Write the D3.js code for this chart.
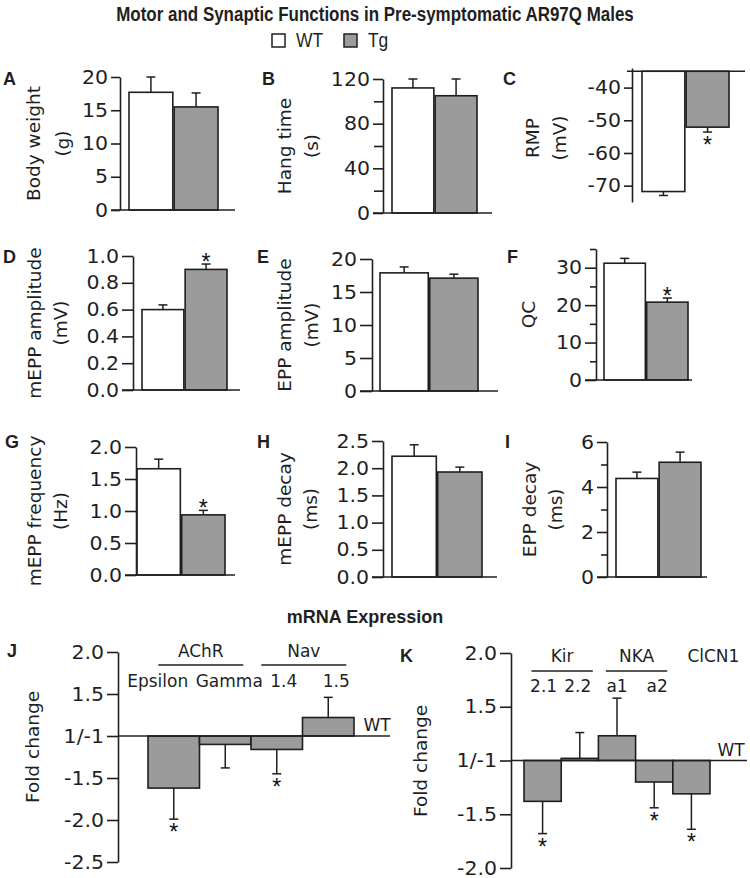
<!DOCTYPE html>
<html><head><meta charset="utf-8">
<script src="https://cdn.jsdelivr.net/npm/d3@7"></script>
<style>body{margin:0;background:#fff}svg{display:block}</style>
</head><body>
<script>
// ---------------- DATA ----------------
const genotypes = ["WT", "Tg"];
const bodyWeight = [17.7, 15.5], bodyWeightErr = [2.3, 2.1], bodyWeightSig = [false, false];
const hangTime = [112, 105], hangTimeErr = [8, 15], hangTimeSig = [false, false];
const rmp = [-71.8, -52.1], rmpErr = [1.2, 1.5], rmpSig = [false, true];
const mEPPamp = [0.60, 0.90], mEPPampErr = [0.035, 0.04], mEPPampSig = [false, true];
const eppAmp = [17.9, 17.1], eppAmpErr = [0.9, 0.6], eppAmpSig = [false, false];
const qc = [31.2, 20.8], qcErr = [1.3, 1.1], qcSig = [false, true];
const mEPPfreq = [1.66, 0.94], mEPPfreqErr = [0.15, 0.07], mEPPfreqSig = [false, true];
const mEPPdecay = [2.22, 1.93], mEPPdecayErr = [0.21, 0.09], mEPPdecaySig = [false, false];
const eppDecay = [4.38, 5.10], eppDecayErr = [0.28, 0.45], eppDecaySig = [false, false];

const jCats = ["Epsilon", "Gamma", "Nav1.4", "Nav1.5"];
const jSub = ["Epsilon", "Gamma", "1.4", "1.5"];
const jFold = [-1.62, -1.10, -1.16, 1.22];
const jErr = [0.37, 0.28, 0.29, 0.24];
const jSig = [true, false, true, false];
const jGroups = [{name: "AChR", from: 0, to: 1}, {name: "Nav", from: 2, to: 3}];

const kCats = ["Kir2.1", "Kir2.2", "NKAa1", "NKAa2", "ClCN1"];
const kSub = ["2.1", "2.2", "a1", "a2", ""];
const kFold = [-1.38, 1.02, 1.23, -1.20, -1.31];
const kErr = [0.30, 0.24, 0.35, 0.24, 0.33];
const kSig = [true, false, false, true, true];
const kGroups = [{name: "Kir", from: 0, to: 1}, {name: "NKA", from: 2, to: 3}];

const foldTicksJ = [2.0, 1.5, 1, -1.5, -2.0, -2.5];
const foldTicksK = [2.0, 1.5, 1, -1.5, -2.0];

// ---------------- STYLE ----------------
const loc = d3.formatLocale({decimal: ".", thousands: ",", grouping: [3], currency: ["", ""], minus: "-"});
const fmtInt = loc.format("d"), fmt1 = loc.format(".1f");
const foldTickLabel = f => f === 1 ? "1/-1" : fmt1(f);

const W = 750, H = 878;
const FONT = "'DejaVu Sans', 'Liberation Sans', sans-serif";
const TICK_FS = 19, TICK_SX = 1.08;
const INK = "#1f1f1f";
const TG_FILL = "#9b9b9b";
const svg = d3.select("body").append("svg").attr("width", W).attr("height", H)
  .attr("font-family", FONT).style("background", "#fff");

// Title + legend (condensed bold look)
svg.append("text").attr("transform", "translate(375,21) scale(0.87,1)").attr("text-anchor", "middle")
  .attr("font-family", "'Liberation Sans',sans-serif")
  .attr("font-weight", "bold").attr("font-size", 19.5).attr("fill", INK)
  .text("Motor and Synaptic Functions in Pre-symptomatic AR97Q Males");
const leg = svg.append("g");
const legX = [272, 344];
genotypes.forEach((gname, i) => {
  leg.append("rect").attr("x", legX[i]).attr("y", 34).attr("width", 13).attr("height", 13)
    .attr("fill", i === 0 ? "#fff" : TG_FILL).attr("stroke", INK).attr("stroke-width", 1.5);
  leg.append("text").attr("transform", `translate(${legX[i] + 24},47) scale(0.87,1)`)
    .attr("font-family", "'Liberation Sans',sans-serif")
    .attr("font-size", 20).attr("fill", INK).text(gname);
});

function styleAxis(ax) {
  ax.attr("font-family", FONT).attr("font-size", TICK_FS);
  ax.selectAll("path, line").attr("stroke", INK).attr("stroke-width", 1.6);
  ax.selectAll("text").attr("fill", INK).each(function () {
    const x0 = +this.getAttribute("x");
    this.setAttribute("x", x0 / TICK_SX);
    this.setAttribute("transform", `scale(${TICK_SX},1)`);
  });
}

function yLabel(g, lines, xs, yc, fs) {
  lines.forEach((t, i) => {
    g.append("text").attr("transform", `translate(${xs[i]},${yc}) rotate(-90)`)
      .attr("text-anchor", "middle").attr("dy", "0.3em").attr("font-size", fs || 18.5)
      .attr("fill", INK).text(t);
  });
}

function letter(g, t, x, y) {
  g.append("text").attr("x", x).attr("y", y).attr("font-family", "'Liberation Sans',sans-serif")
    .attr("font-weight", "bold").attr("font-size", 18).attr("fill", INK).text(t);
}

function asterisk(g, cx, yEnd, down) {
  g.append("text").attr("x", cx).attr("y", down ? yEnd + 21 : yEnd + 6)
    .attr("text-anchor", "middle").attr("font-family", "'Liberation Sans',sans-serif")
    .attr("font-size", 23).attr("fill", "#111").text("*");
}

function barPanel(p) {
  const g = svg.append("g");
  const y = d3.scaleLinear().domain(p.domain).range(p.yRange);
  const x = d3.scaleBand().domain(genotypes).range(p.xRange).paddingInner(0.03);
  const base = p.base === undefined ? 0 : p.base;
  const tick = p.tick || 10;
  g.selectAll("rect.bar").data(p.values).join("rect").attr("class", "bar")
    .attr("x", (d, i) => x(genotypes[i])).attr("width", x.bandwidth())
    .attr("y", d => Math.min(y(d), y(base))).attr("height", d => Math.abs(y(d) - y(base)))
    .attr("fill", (d, i) => i === 0 ? "#fff" : TG_FILL)
    .attr("stroke", INK).attr("stroke-width", 1.6);
  p.values.forEach((v, i) => {
    const cx = x(genotypes[i]) + x.bandwidth() / 2;
    const down = v < base;
    const e = down ? v - p.errs[i] : v + p.errs[i];
    g.append("line").attr("x1", cx).attr("x2", cx).attr("y1", y(v)).attr("y2", y(e))
      .attr("stroke", INK).attr("stroke-width", 1.5);
    g.append("line").attr("x1", cx - 4.5).attr("x2", cx + 4.5).attr("y1", y(e)).attr("y2", y(e))
      .attr("stroke", INK).attr("stroke-width", 1.5);
    if (p.sig[i]) asterisk(g, cx, y(e), down);
  });
  const ax = g.append("g").attr("transform", `translate(${p.axisX},0)`)
    .call(d3.axisLeft(y).tickValues(p.ticks).tickFormat(p.fmt || fmtInt)
      .tickSize(tick).tickSizeOuter(0).tickPadding(3));
  styleAxis(ax);
  if (p.minor) {
    const mx = g.append("g").attr("transform", `translate(${p.axisX},0)`)
      .call(d3.axisLeft(y).tickValues(p.minor).tickFormat("").tickSize(p.minorTick || 6).tickSizeOuter(0));
    mx.select(".domain").remove();
    styleAxis(mx);
  }
  g.append("line").attr("x1", p.axisX - (p.baseFrom === undefined ? tick : p.baseFrom))
    .attr("x2", p.baseTo).attr("y1", y(base)).attr("y2", y(base))
    .attr("stroke", INK).attr("stroke-width", 1.6);
  yLabel(g, p.label, p.labelX, p.labelY || (p.yRange[0] + p.yRange[1]) / 2);
  letter(g, p.letter, p.letterPos[0], p.letterPos[1]);
}

// Row 1
barPanel({letter: "A", letterPos: [3, 85], axisX: 120, domain: [0, 20], yRange: [210, 77],
  ticks: [0, 5, 10, 15, 20], xRange: [129, 218], baseTo: 235,
  values: bodyWeight, errs: bodyWeightErr, sig: bodyWeightSig,
  label: ["Body weight", "(g)"], labelX: [34, 63], tick: 9});
barPanel({letter: "B", letterPos: [262, 85], axisX: 383, domain: [0, 120], yRange: [213, 79],
  ticks: [0, 40, 80, 120], minor: [20, 60, 100], minorTick: 9, xRange: [392, 477], baseTo: 492,
  values: hangTime, errs: hangTimeErr, sig: hangTimeSig,
  label: ["Hang time", "(s)"], labelX: [285, 312]});
barPanel({letter: "C", letterPos: [503, 85], axisX: 632, domain: [-75, -34], yRange: [202, 68],
  ticks: [-70, -60, -50, -40], xRange: [642, 729], base: -35, baseFrom: 5, baseTo: 745,
  values: rmp, errs: rmpErr, sig: rmpSig, tick: 8,
  label: ["RMP", "(mV)"], labelX: [533, 560], labelY: 138});
// Row 2
barPanel({letter: "D", letterPos: [3, 263], axisX: 133, domain: [0, 1], yRange: [390, 256],
  ticks: [0, 0.2, 0.4, 0.6, 0.8, 1.0], fmt: fmt1, xRange: [142, 227], baseTo: 240,
  values: mEPPamp, errs: mEPPampErr, sig: mEPPampSig, tick: 11,
  label: ["mEPP amplitude", "(mV)"], labelX: [35, 61]});
barPanel({letter: "E", letterPos: [257, 263], axisX: 372, domain: [0, 20], yRange: [391, 259],
  ticks: [0, 5, 10, 15, 20], xRange: [380, 478], baseTo: 498,
  values: eppAmp, errs: eppAmpErr, sig: eppAmpSig, tick: 12,
  label: ["EPP amplitude", "(mV)"], labelX: [285, 312]});
barPanel({letter: "F", letterPos: [507, 263], axisX: 596, domain: [0, 35], yRange: [380, 249],
  ticks: [0, 10, 20, 30], minor: [5, 15, 25, 35], xRange: [604, 688], baseTo: 692,
  values: qc, errs: qcErr, sig: qcSig, tick: 11,
  label: ["QC"], labelX: [529]});
// Row 3
barPanel({letter: "G", letterPos: [5, 448], axisX: 136, domain: [0, 2], yRange: [575, 447],
  ticks: [0, 0.5, 1.0, 1.5, 2.0], fmt: fmt1, xRange: [137, 225], baseTo: 235,
  values: mEPPfreq, errs: mEPPfreqErr, sig: mEPPfreqSig, tick: 11,
  label: ["mEPP frequency", "(Hz)"], labelX: [35, 61]});
barPanel({letter: "H", letterPos: [257, 448], axisX: 383, domain: [0, 2.5], yRange: [577, 441],
  ticks: [0, 0.5, 1.0, 1.5, 2.0, 2.5], fmt: fmt1, xRange: [392, 482], baseTo: 497,
  values: mEPPdecay, errs: mEPPdecayErr, sig: mEPPdecaySig, tick: 11,
  label: ["mEPP decay", "(ms)"], labelX: [285, 311]});
barPanel({letter: "I", letterPos: [505, 448], axisX: 607, domain: [0, 6], yRange: [577, 442],
  ticks: [0, 2, 4, 6], minor: [1, 3, 5], xRange: [616, 701], baseTo: 707,
  values: eppDecay, errs: eppDecayErr, sig: eppDecaySig, tick: 10,
  label: ["EPP decay", "(ms)"], labelX: [530, 556]});

// mRNA section title
svg.append("text").attr("x", 365).attr("y", 623).attr("text-anchor", "middle")
  .attr("font-family", "'Liberation Sans',sans-serif").attr("font-weight", "bold")
  .attr("font-size", 18).attr("fill", INK).text("mRNA Expression");

function foldPanel(p) {
  const g = svg.append("g");
  const eff = f => f > 0 ? f - 1 : f + 1;
  const y = d3.scaleLinear().domain(p.domain).range(p.yRange);
  const x = d3.scaleBand().domain(p.cats).range(p.xRange).paddingInner(0);
  const bw = x.bandwidth();
  g.selectAll("rect.bar").data(p.fold).join("rect").attr("class", "bar")
    .attr("x", (d, i) => x(p.cats[i])).attr("width", bw)
    .attr("y", d => Math.min(y(eff(d)), y(0))).attr("height", d => Math.abs(y(eff(d)) - y(0)))
    .attr("fill", TG_FILL).attr("stroke", INK).attr("stroke-width", 1.6);
  p.fold.forEach((f, i) => {
    const cx = x(p.cats[i]) + bw / 2;
    const v = eff(f);
    const down = f < 0;
    const e = down ? v - p.errs[i] : v + p.errs[i];
    g.append("line").attr("x1", cx).attr("x2", cx).attr("y1", y(v)).attr("y2", y(e))
      .attr("stroke", INK).attr("stroke-width", 1.5);
    g.append("line").attr("x1", cx - 4.5).attr("x2", cx + 4.5).attr("y1", y(e)).attr("y2", y(e))
      .attr("stroke", INK).attr("stroke-width", 1.5);
    if (p.sig[i]) asterisk(g, cx, y(e), down);
    if (p.sub[i]) g.append("text").attr("x", cx + p.subOffset[i]).attr("y", p.subY)
      .attr("text-anchor", "middle").attr("font-size", 17).attr("fill", INK).text(p.sub[i]);
  });
  g.append("line").attr("x1", p.axisX).attr("x2", p.lineTo).attr("y1", y(0)).attr("y2", y(0))
    .attr("stroke", INK).attr("stroke-width", 1.6);
  g.append("text").attr("x", p.wtPos[0]).attr("y", p.wtPos[1]).attr("text-anchor", "middle")
    .attr("font-size", 17).attr("fill", INK).text("WT");
  const ax = g.append("g").attr("transform", `translate(${p.axisX},0)`)
    .call(d3.axisLeft(y).tickValues(p.ticks.map(eff)).tickFormat((d, i) => foldTickLabel(p.ticks[i]))
      .tickSize(11).tickSizeOuter(0).tickPadding(3));
  styleAxis(ax);
  p.groups.forEach(gr => {
    const x1 = x(p.cats[gr.from]) + bw * 0.2, x2 = x(p.cats[gr.to]) + bw * 0.85;
    g.append("line").attr("x1", x1).attr("x2", x2).attr("y1", p.groupLineY).attr("y2", p.groupLineY)
      .attr("stroke", INK).attr("stroke-width", 1.3);
    g.append("text").attr("x", (x1 + x2) / 2).attr("y", p.groupY).attr("text-anchor", "middle")
      .attr("font-size", 17).attr("fill", INK).text(gr.name);
  });
  if (p.extraGroup) g.append("text").attr("x", x(p.extraGroup.cat) + bw / 2 + p.extraGroup.dx)
    .attr("y", p.groupY).attr("text-anchor", "middle").attr("font-size", 17).attr("fill", INK)
    .text(p.extraGroup.name);
  yLabel(g, ["Fold change"], [p.labelX], p.labelY);
  letter(g, p.letter, p.letterPos[0], p.letterPos[1]);
}

foldPanel({letter: "J", letterPos: [7, 657], axisX: 118, domain: [-1.5, 1], yRange: [862, 652],
  cats: jCats, sub: jSub, fold: jFold, errs: jErr, sig: jSig, groups: jGroups, ticks: foldTicksJ,
  xRange: [148, 354], lineTo: 390, wtPos: [377, 731], subY: 687, subOffset: [-16, 4, 7, 8],
  groupY: 657, groupLineY: 665, labelX: 33, labelY: 747});
foldPanel({letter: "K", letterPos: [400, 662], axisX: 511, domain: [-1, 1], yRange: [868, 653],
  cats: kCats, sub: kSub, fold: kFold, errs: kErr, sig: kSig, groups: kGroups, ticks: foldTicksK,
  xRange: [524, 710], lineTo: 747, wtPos: [731, 756], subY: 692, subOffset: [1, -2, 0, 3, 0],
  groupY: 662, groupLineY: 671, labelX: 421, labelY: 761,
  extraGroup: {name: "ClCN1", cat: "ClCN1", dx: 22}});
</script>
</body></html>
